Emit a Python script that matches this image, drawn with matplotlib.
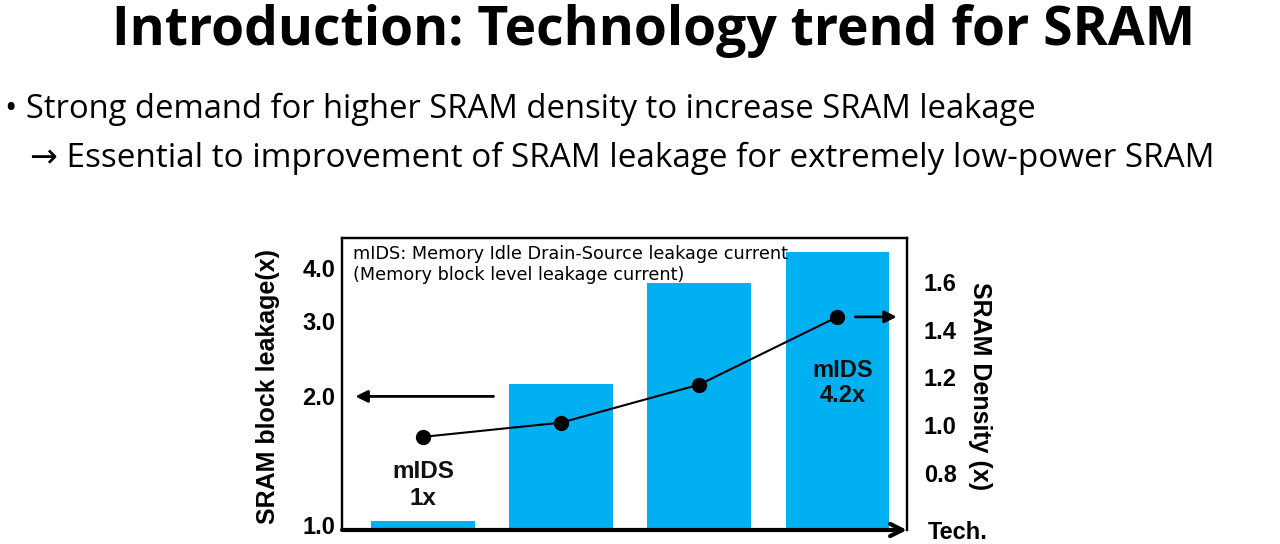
import matplotlib.pyplot as plt
import numpy as np

# technology nodes (unlabelled in the slide), left to right
tech_nodes = ["node1", "node2", "node3", "node4"]
leakage = [1.02, 2.14, 3.69, 4.36]      # SRAM block leakage (x), log axis
density = [0.95, 1.01, 1.17, 1.455]     # SRAM density (x)
left_ticks = [1.0, 2.0, 3.0, 4.0]
right_ticks = [0.8, 1.0, 1.2, 1.4, 1.6]

BAR_BLUE = "#00B0F0"
ARIAL = "Liberation Sans"
SLIDE = "Open Sans"

fig = plt.figure(figsize=(12.8, 5.44), dpi=100)

# slide text
fig.text(654 / 1280, 1 - 45 / 544, "Introduction: Technology trend for SRAM",
         ha="center", va="baseline", fontsize=38.5, fontweight="bold", family=SLIDE)
fig.text(5 / 1280, 1 - 118 / 544,
         "\u2022 Strong demand for higher SRAM density to increase SRAM leakage",
         ha="left", va="baseline", fontsize=23.55, family=[SLIDE, "DejaVu Sans"])
fig.text(30 / 1280, 1 - 167 / 544,
         "\u2192 Essential to improvement of SRAM leakage for extremely low-power SRAM",
         ha="left", va="baseline", fontsize=23.95, family=[SLIDE, "DejaVu Sans"])

ax = fig.add_axes([342 / 1280, 1 - 530 / 544, 565 / 1280, 292 / 544])
x = np.arange(len(tech_nodes))

ax.set_yscale("log")
ax.bar(x, np.array(leakage) - 0.5, bottom=0.5, width=0.75, color=BAR_BLUE, zorder=1)
ax.set_ylim(0.973, 4.70)
ax.set_xlim(-0.587, 3.504)
ax.set_yticks(left_ticks)
ax.set_yticklabels([f"{t:.1f}" for t in left_ticks])
ax.yaxis.set_minor_locator(plt.NullLocator())
ax.set_xticks([])
ax.tick_params(axis="y", length=0, pad=5, labelsize=17)
for lab in ax.get_yticklabels():
    lab.set_fontweight("bold")
    lab.set_family(ARIAL)

for s in ["left", "top", "right"]:
    ax.spines[s].set_linewidth(1.6)
ax.spines["bottom"].set_visible(False)

ax2 = ax.twinx()
ax2.plot(x, density, color="black", lw=1.5, marker="o", markersize=10, zorder=3)
ax2.set_ylim(0.558, 1.787)
ax2.set_yticks(right_ticks)
ax2.set_yticklabels([f"{t:.1f}" for t in right_ticks])
ax2.tick_params(axis="y", length=0, pad=12, labelsize=17)
for lab in ax2.get_yticklabels():
    lab.set_fontweight("bold")
    lab.set_family(ARIAL)
for s in ["left", "top", "right"]:
    ax2.spines[s].set_linewidth(1.6)
ax2.spines["bottom"].set_visible(False)

# bottom axis drawn as an arrow (Tech.)
ax.annotate("", xy=(1.0, 0), xytext=(0, 0), xycoords="axes fraction",
            arrowprops=dict(arrowstyle="->", lw=3, color="black", mutation_scale=22,
                            shrinkA=0, shrinkB=0), annotation_clip=False)

# arrows pointing to each axis
ax.annotate("", xy=(-0.49, 2.0), xytext=(0.51, 2.0),
            arrowprops=dict(arrowstyle="-|>", lw=2, color="black", mutation_scale=18,
                            shrinkA=0, shrinkB=0))
ax2.annotate("", xy=(3.43, density[3]), xytext=(3.13, density[3]),
             arrowprops=dict(arrowstyle="-|>", lw=2, color="black", mutation_scale=18,
                             shrinkA=0, shrinkB=0), annotation_clip=False)

ax.text(0.0, 1.24, "mIDS\n1x", ha="center", va="center", fontsize=17.5,
        fontweight="bold", family=ARIAL, color="#111111", linespacing=1.25)
ax.text(3.04, 2.15, "mIDS\n4.2x", ha="center", va="center", fontsize=17,
        fontweight="bold", family=ARIAL, color="#111111", linespacing=1.15)

ax.text(0.019, 0.977,
        "mIDS: Memory Idle Drain-Source leakage current\n(Memory block level leakage current)",
        transform=ax.transAxes, ha="left", va="top", fontsize=12.7, family="DejaVu Sans",
        linespacing=1.25)

ax.text(-0.131, 0.493, "SRAM block leakage(x)", transform=ax.transAxes, rotation=90,
        ha="center", va="center", fontsize=18, fontweight="bold", family=ARIAL)
ax.text(1.129, 0.493, "SRAM Density (x)", transform=ax.transAxes, rotation=270,
        ha="center", va="center", fontsize=18, fontweight="bold", family=ARIAL)
ax.text(1.089, -0.007, "Tech.", transform=ax.transAxes, ha="center", va="center",
        fontsize=17, fontweight="bold", family=ARIAL)

fig.savefig("out.png", dpi=100)
